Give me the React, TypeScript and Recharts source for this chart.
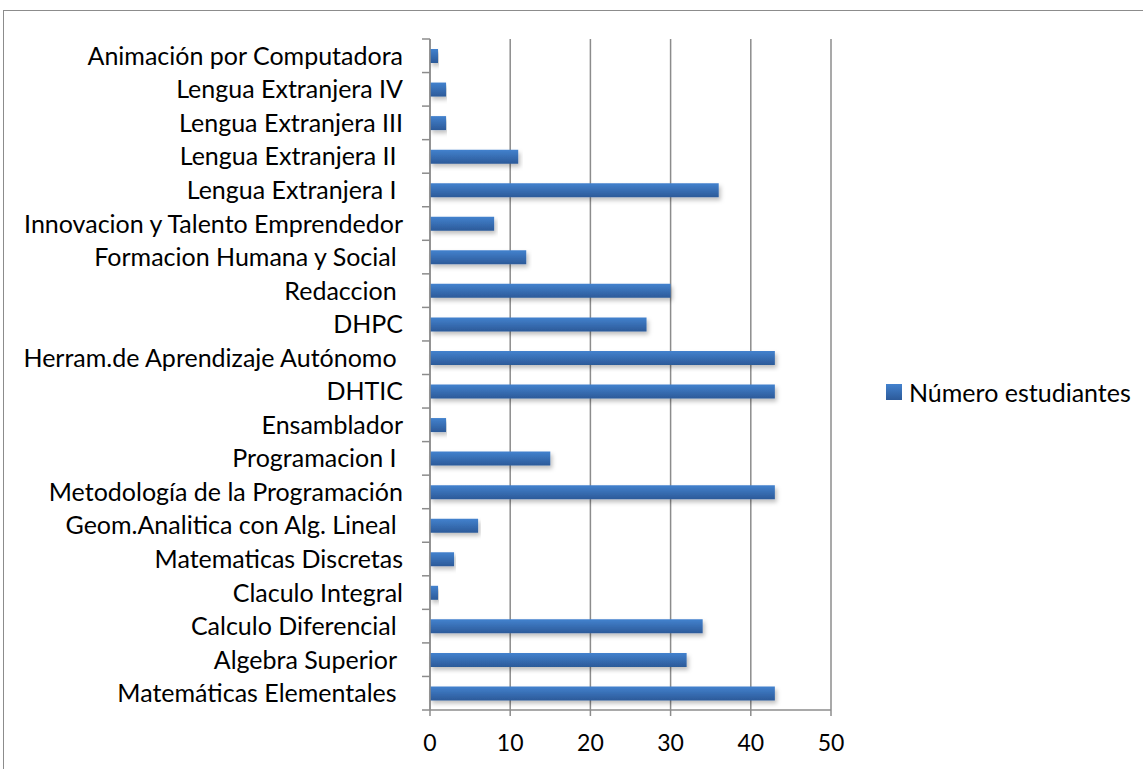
import React from 'react';
import { BarChart, Bar, XAxis, YAxis, CartesianGrid, Legend } from 'recharts';

// Courses, top to bottom as shown in the chart
const courses = [
  'Animación por Computadora',
  'Lengua Extranjera IV',
  'Lengua Extranjera III',
  'Lengua Extranjera II ',
  'Lengua Extranjera I ',
  'Innovacion y Talento Emprendedor',
  'Formacion Humana y Social ',
  'Redaccion ',
  'DHPC',
  'Herram.de Aprendizaje Autónomo ',
  'DHTIC',
  'Ensamblador',
  'Programacion I ',
  'Metodología de la Programación',
  'Geom.Analitica con Alg. Lineal ',
  'Matematicas Discretas',
  'Claculo Integral',
  'Calculo Diferencial ',
  'Algebra Superior ',
  'Matemáticas Elementales ',
];

const students = [1, 2, 2, 11, 36, 8, 12, 30, 27, 43, 43, 2, 15, 43, 6, 3, 1, 34, 32, 43];

const xTicks = [0, 10, 20, 30, 40, 50];

const seriesName = 'Número estudiantes';

const chartData = courses.map((name, i) => ({ name, value: students[i] }));

const FONT = 'Lato, "Open Sans", sans-serif';
const GRAY = '#8c8c8c';
const PLOT_TOP = 39;
const PLOT_HEIGHT = 671;
const BAND = PLOT_HEIGHT / courses.length;

function CourseTick(props: any) {
  const { x, y, payload, index } = props;
  const half = BAND / 2;
  const isLast = index === courses.length - 1;
  return (
    <g>
      <line x1={x - 8} x2={x} y1={y - half} y2={y - half} stroke={GRAY} strokeWidth={1.5} />
      {isLast && (
        <line x1={x - 8} x2={x} y1={y + half} y2={y + half} stroke={GRAY} strokeWidth={1.5} />
      )}
      <text
        x={x - 27}
        y={y}
        dy="0.36em"
        textAnchor="end"
        fill="#000"
        fontSize={25}
        fontFamily={FONT}
        style={{ whiteSpace: 'pre' }}
        xmlSpace="preserve"
      >
        {payload.value}
      </text>
    </g>
  );
}

function LegendBox() {
  return (
    <div
      style={{
        display: 'flex',
        alignItems: 'center',
        height: 30,
        fontFamily: FONT,
        fontSize: 25,
        whiteSpace: 'nowrap',
      }}
    >
      <svg width={16} height={16} style={{ marginRight: 7 }}>
        <defs>
          <linearGradient id="legGrad" x1="0" y1="0" x2="0" y2="1">
            <stop offset="0%" stopColor="#4382ce" />
            <stop offset="100%" stopColor="#2c5a99" />
          </linearGradient>
        </defs>
        <rect x={0} y={0} width={16} height={16} fill="url(#legGrad)" />
      </svg>
      <span style={{ color: '#000' }}>{seriesName}</span>
    </div>
  );
}

export default function App() {
  return (
    <div
      style={{
        position: 'fixed',
        left: 0,
        top: 0,
        width: 1143,
        height: 769,
        background: '#fff',
        overflow: 'hidden',
      }}
    >
      {/* outer frame of the chart area */}
      <div
        style={{
          position: 'absolute',
          left: 3,
          top: 10,
          width: 1200,
          height: 900,
          border: `1.5px solid ${GRAY}`,
          boxSizing: 'border-box',
        }}
      />
      <BarChart
        width={1143}
        height={769}
        layout="vertical"
        data={chartData}
        margin={{ top: PLOT_TOP, right: 312, bottom: 0, left: 0 }}
        style={{ position: 'absolute', left: 0, top: 0 }}
      >
        <defs>
          <linearGradient id="barGrad" x1="0" y1="0" x2="0" y2="1">
            <stop offset="0%" stopColor="#4382ce" />
            <stop offset="100%" stopColor="#2c5a99" />
          </linearGradient>
          <filter id="barShadow" x="-5%" y="-50%" width="110%" height="200%">
            <feDropShadow dx={2} dy={3} stdDeviation={2} floodColor="#000" floodOpacity={0.25} />
          </filter>
        </defs>
        <CartesianGrid horizontal={false} stroke={GRAY} strokeWidth={1.5} />
        <XAxis
          type="number"
          domain={[0, 50]}
          ticks={xTicks}
          height={59}
          axisLine={{ stroke: GRAY, strokeWidth: 1.5 }}
          tickLine={{ stroke: GRAY, strokeWidth: 1.5 }}
          tickSize={6}
          tickMargin={19}
          tick={{ fontSize: 23, fill: '#000', fontFamily: FONT }}
        />
        <YAxis
          type="category"
          dataKey="name"
          width={430}
          interval={0}
          tickSize={0}
          tickMargin={0}
          tickLine={false}
          axisLine={{ stroke: GRAY, strokeWidth: 1.5 }}
          tick={<CourseTick />}
        />
        <Legend
          layout="horizontal"
          verticalAlign="middle"
          align="center"
          content={<LegendBox />}
          wrapperStyle={{ position: 'absolute', left: 886, top: 377, width: 257 }}
        />
        <Bar
          dataKey="value"
          name={seriesName}
          barSize={14}
          fill="url(#barGrad)"
          filter="url(#barShadow)"
          isAnimationActive={false}
        />
      </BarChart>
    </div>
  );
}
